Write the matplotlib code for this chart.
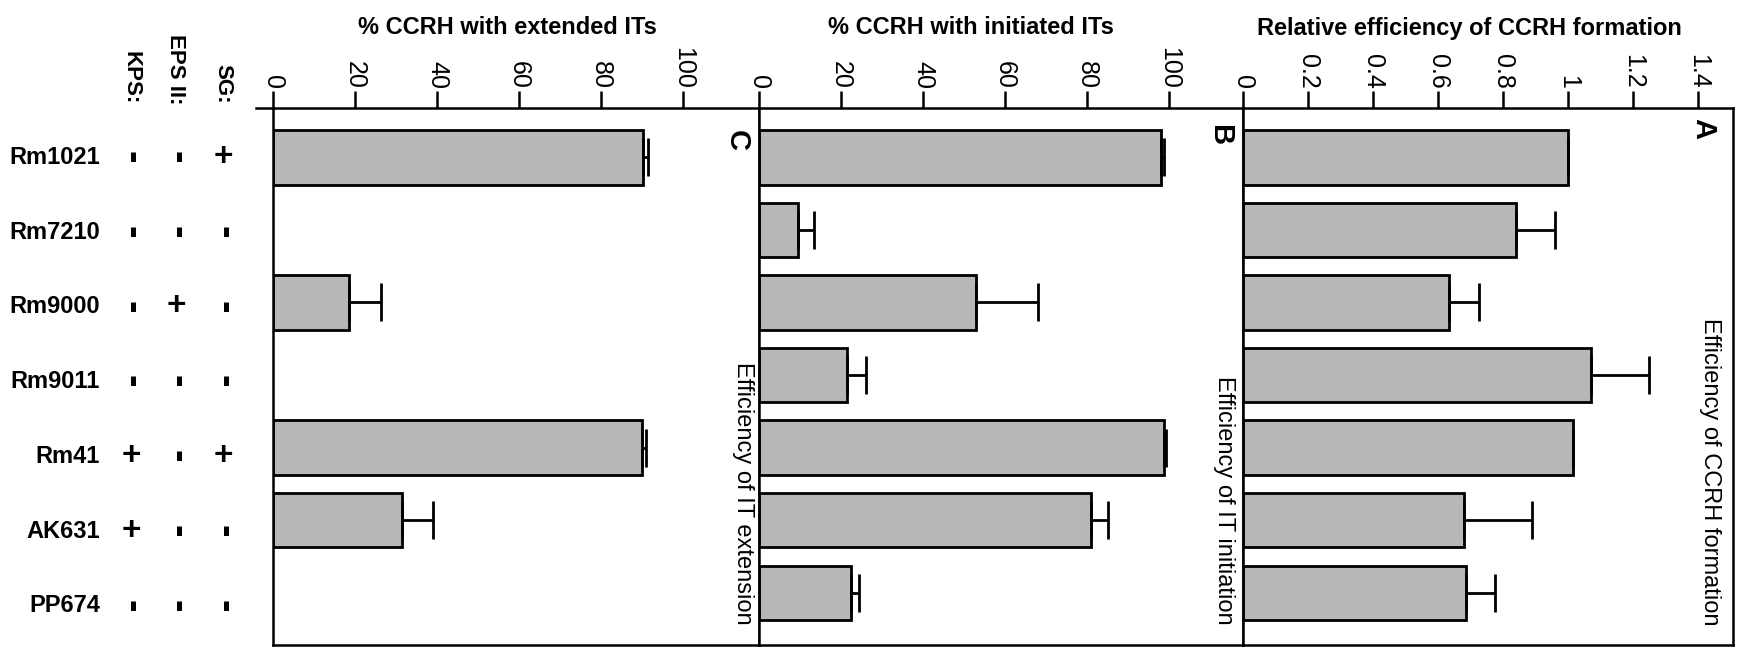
import numpy as np
import matplotlib
matplotlib.use("Agg")
import matplotlib.pyplot as plt
from matplotlib import transforms

plt.rcParams['font.family'] = ['Liberation Sans', 'DejaVu Sans']

strains = ["Rm1021", "Rm7210", "Rm9000", "Rm9011", "Rm41", "AK631", "PP674"]
kps = ["-", "-", "-", "-", "+", "+", "-"]
eps2 = ["-", "-", "+", "-", "-", "-", "-"]
sg = ["+", "-", "-", "-", "+", "-", "-"]

a_vals = [1.00, 0.84, 0.635, 1.07, 1.015, 0.68, 0.685]
a_err = [0.0, 0.12, 0.09, 0.18, 0.0, 0.21, 0.09]
b_vals = [98.0, 9.5, 53.0, 21.5, 98.8, 81.0, 22.5]
b_err = [0.8, 4.0, 15.0, 4.5, 0.4, 4.0, 1.8]
c_vals = [90.3, None, 18.6, None, 90.0, 31.4, None]
c_err = [1.2, None, 7.7, None, 1.0, 7.7, None]

a_ticks = [0, 0.2, 0.4, 0.6, 0.8, 1.0, 1.2, 1.4]
a_ticklabels = ["0", "0.2", "0.4", "0.6", "0.8", "1", "1.2", "1.4"]
pct_ticks = [0, 20, 40, 60, 80, 100]
pct_ticklabels = ["0", "20", "40", "60", "80", "100"]

W, H = 1745, 654
fig = plt.figure(figsize=(W / 100, H / 100), dpi=100)

top_px, bot_px = 108, 645
ax_bottom = 1 - bot_px / H
ax_height = (bot_px - top_px) / H

def fx(px):
    return px / W

axC = fig.add_axes([fx(273), ax_bottom, fx(759 - 273), ax_height])
axB = fig.add_axes([fx(759), ax_bottom, fx(1243 - 759), ax_height])
axA = fig.add_axes([fx(1243), ax_bottom, fx(1733 - 1243), ax_height])

bar_color = "#b7b7b7"
lw = 2.0
ypos = np.arange(len(strains))

def draw(ax, vals, errs, xmax, ticks, ticklabels):
    idx = [i for i, v in enumerate(vals) if v is not None]
    v = [vals[i] for i in idx]
    e = [errs[i] for i in idx]
    y = [ypos[i] for i in idx]
    ax.barh(y, v, height=0.75, color=bar_color, edgecolor="black", linewidth=lw, zorder=2)
    ax.errorbar(v, y, xerr=[np.zeros(len(e)), e], fmt="none", ecolor="black",
                elinewidth=2, capsize=14, capthick=2, zorder=3)
    ax.set_xlim(0, xmax)
    ax.set_ylim(6.72, -0.68)
    ax.set_yticks([])
    ax.xaxis.tick_top()
    ax.set_xticks(ticks)
    ax.set_xticklabels(ticklabels)
    ax.tick_params(axis="x", direction="out", length=12, width=1.8, pad=2,
                   labelsize=18, labelrotation=270)
    for s in ax.spines.values():
        s.set_linewidth(1.8)

draw(axC, c_vals, c_err, 118.5, pct_ticks, pct_ticklabels)
draw(axB, b_vals, b_err, 118.0, pct_ticks, pct_ticklabels)
draw(axA, a_vals, a_err, 1.508, a_ticks, a_ticklabels)

# extend top axis line a little to the left of panel C
axC.plot([-0.035, 0], [1, 1], transform=axC.transAxes, color="black", lw=1.8, clip_on=False)

# titles
fig.text(fx(507), 1 - 28 / H, "% CCRH with extended ITs", ha="center", va="center",
         fontsize=17, fontweight="bold")
fig.text(fx(971), 1 - 28 / H, "% CCRH with initiated ITs", ha="center", va="center",
         fontsize=17, fontweight="bold")
fig.text(fx(1469), 1 - 28 / H, "Relative efficiency of CCRH formation", ha="center", va="center",
         fontsize=17, fontweight="bold")

# panel letters
fig.text(fx(737), 1 - 141 / H, "C", rotation=270, ha="center", va="center", fontsize=21, fontweight="bold")
fig.text(fx(1220), 1 - 136 / H, "B", rotation=270, ha="center", va="center", fontsize=21, fontweight="bold")
fig.text(fx(1703), 1 - 128 / H, "A", rotation=270, ha="center", va="center", fontsize=21, fontweight="bold")

# efficiency labels (end aligned near bottom)
for xp, txt in [(743, "Efficiency of IT extension"), (1224, "Efficiency of IT initiation"),
                (1710, "Efficiency of CCRH formation")]:
    fig.text(fx(xp), 1 - 625 / H, txt, rotation=270, rotation_mode="anchor",
             ha="right", va="center", fontsize=17)

# left-side genotype table
tr = transforms.blended_transform_factory(fig.transFigure, axC.transData)
for i, name in enumerate(strains):
    fig.text(fx(100), ypos[i] + 0.03 * i, name, transform=tr, ha="right", va="center",
             fontsize=17, fontweight="bold")
    for xp, col in [(131, kps), (176, eps2), (223, sg)]:
        mark = col[i]
        if mark == "+":
            fig.text(fx(xp), ypos[i] + 0.03 * i, "+", transform=tr, ha="center", va="center",
                     fontsize=24, fontweight="bold")
        else:
            fig.text(fx(xp), ypos[i] + 0.03 * i, "-", transform=tr, rotation=270, ha="center",
                     va="center", fontsize=27, fontweight="bold")

for xp, txt in [(131, "KPS:"), (176, "EPS II:"), (223, "SG:")]:
    fig.text(fx(xp), 1 - 104 / H, txt, rotation=270, rotation_mode="anchor",
             ha="right", va="center", fontsize=16, fontweight="bold")

fig.savefig("out.png", dpi=100)
